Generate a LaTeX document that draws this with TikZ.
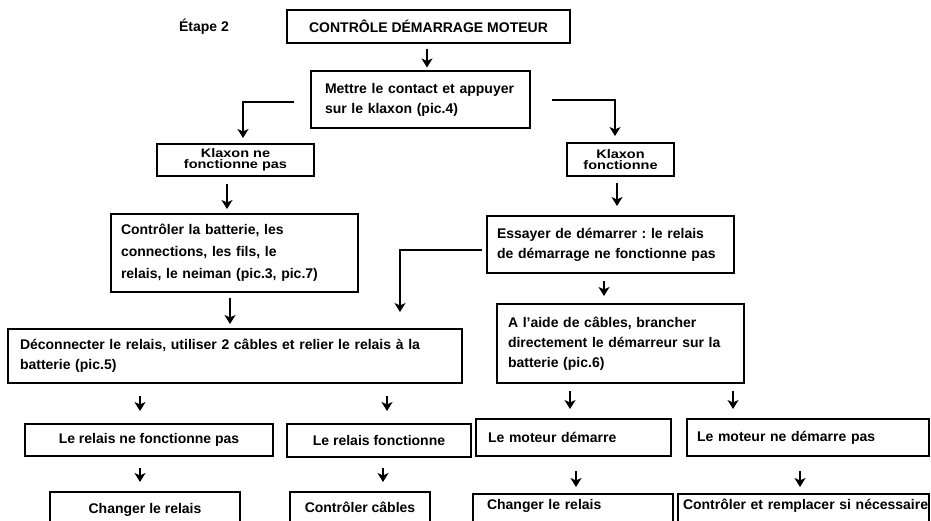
\documentclass[tikz,border=0pt]{standalone}
\usepackage{fontspec}
\setmainfont{Liberation Sans}
\usepackage{graphicx}
\usetikzlibrary{arrows.meta,calc}
\frenchspacing
\newcommand\bodyfnt{\fontsize{14}{20}\selectfont\bfseries}
\newcommand\klaxfnt{\fontsize{14.5}{20}\selectfont\bfseries}
\begin{document}
\begin{tikzpicture}[x=1pt,y=-1pt,
  box/.style={draw,line width=2pt,inner ysep=0pt,font=\bodyfnt},
  lbox/.style={box,align=left},
  cbox/.style={box,align=center,inner xsep=0pt},
  arr/.style={line width=2pt,-{Stealth[length=9pt,width=11pt,inset=2.5pt]}},
]
\useasboundingbox (0,0) rectangle (931,521);
\fill[white] (0,0) rectangle (931,521);
\clip (0,0) rectangle (931,521);

\node[font=\bodyfnt] (etape) at (204,27) {Étape 2};
\node[cbox,line width=2.5pt,minimum width=283pt,minimum height=33pt] (title) at (428.5,26.5) {CONTRÔLE DÉMARRAGE MOTEUR};
\node[lbox,inner xsep=14pt,text width=191pt,minimum height=57pt] (mettre) at (420.5,100)
  {\mbox{Mettre le contact et appuyer}\\\mbox{sur le klaxon (pic.4)}};
\node[cbox,minimum width=157pt,minimum height=32pt,font=\klaxfnt] (klaxNo) at (235.5,160)
  {\scalebox{1}[0.85]{\shortstack{Klaxon ne\\fonctionne pas}}};
\node[cbox,minimum width=107pt,minimum height=33pt,font=\klaxfnt] (klaxYes) at (620.5,159.5)
  {\scalebox{1}[0.85]{\shortstack{Klaxon\\fonctionne}}};
\node[lbox,inner xsep=10pt,text width=227pt,minimum height=78pt,font=\fontsize{14}{22}\selectfont\bfseries] (controler) at (234.5,253)
  {\mbox{Contrôler la batterie, les}\\\mbox{connections, les fils, le}\\\mbox{relais, le neiman (pic.3, pic.7)}};
\node[lbox,inner xsep=10pt,text width=227pt,minimum height=57pt] (essayer) at (610.5,244.5)
  {\mbox{Essayer de démarrer : le relais}\\\mbox{de démarrage ne fonctionne pas}};
\node[lbox,inner xsep=12pt,text width=430pt,minimum height=54pt] (deconn) at (235,356)
  {\mbox{Déconnecter le relais, utiliser 2 câbles et relier le relais à la}\\\mbox{batterie (pic.5)}};
\node[lbox,inner xsep=11pt,text width=225pt,minimum height=79pt] (aide) at (620.5,343.5)
  {\mbox{A l’aide de câbles, brancher}\\\mbox{directement le démarreur sur la}\\\mbox{batterie (pic.6)}};
\node[cbox,minimum width=248pt,minimum height=32pt] (relNo) at (149,440) {Le relais ne fonctionne pas};
\node[cbox,minimum width=184pt,minimum height=33pt] (relYes) at (379,440.5) {Le relais fonctionne};
\node[lbox,inner xsep=12pt,text width=171pt,minimum height=37pt] (motOk) at (573.5,437.5) {\mbox{Le moteur démarre}};
\node[lbox,inner xsep=10pt,text width=222pt,minimum height=37pt] (motNo) at (808,437.5) {\mbox{Le moteur ne démarre pas}};
\node[cbox,anchor=north,minimum width=190pt,text height=17pt,text depth=20pt,inner ysep=4pt] (chg1) at (145,491) {Changer le relais};
\node[cbox,anchor=north,minimum width=140pt,text height=16pt,text depth=20pt,inner ysep=4pt] (ctrlCab) at (360,491) {Contrôler câbles};
\node[lbox,anchor=north,inner xsep=14pt,text width=172pt,text height=11pt,text depth=25pt,inner ysep=4pt] (chg2) at (573,493) {\mbox{Changer le relais}};
\node[lbox,anchor=north,inner xsep=5pt,text width=241pt,text height=11pt,text depth=25pt,inner ysep=4pt] (ctrlRemp) at (803.5,493) {\mbox{Contrôler et remplacer si nécessaire}};

% straight arrows
\draw[arr] ($(title.south)+(-1.5,5)$) -- ($(mettre.north)+(6.5,-3)$);
\draw[arr] ($(klaxNo.south)+(-8.5,7)$) -- ($(controler.north)+(-7.5,-4)$);
\draw[arr] ($(controler.south)+(-4.5,5)$) -- ($(deconn.north)+(-5,-4)$);
\draw[arr] ($(klaxYes.south)+(-3.5,6)$) -- ($(essayer.north)+(6.5,-9)$);
\draw[arr] ($(essayer.south)+(-6.5,7)$) -- ($(aide.north)+(-16.5,-7)$);
\draw[arr] ($(deconn.south)+(-95,12)$) -- ($(relNo.north)+(-9,-12)$);
\draw[arr] ($(deconn.south)+(152,12)$) -- ($(relYes.north)+(8,-12)$);
\draw[arr] ($(relNo.south)+(-9,11)$) -- ($(chg1.north)+(-5,-9)$);
\draw[arr] ($(relYes.south)+(4,10)$) -- ($(ctrlCab.north)+(23,-9)$);
\draw[arr] ($(aide.south)+(-50.5,7)$) -- ($(motOk.north)+(-3.5,-9)$);
\draw[arr] ($(aide.south)+(112.5,7)$) -- ($(motNo.north)+(-75,-9)$);
\draw[arr] ($(motOk.south)+(2.5,14)$) -- ($(chg2.north)+(3,-6)$);
\draw[arr] ($(motNo.south)+(-8,14)$) -- ($(ctrlRemp.north)+(-3.5,-6)$);
% elbow arrows
\draw[arr] ($(mettre.west)+(-16,2)$) -| ($(klaxNo.north)+(7.5,-5)$);
\draw[arr] ($(mettre.east)+(21,0)$) -| ($(klaxYes.north)+(-5.5,-6)$);
\draw[arr] ($(essayer.west)+(-4,5.5)$) -| ($(deconn.north)+(165,-16)$);
\end{tikzpicture}
\end{document}
